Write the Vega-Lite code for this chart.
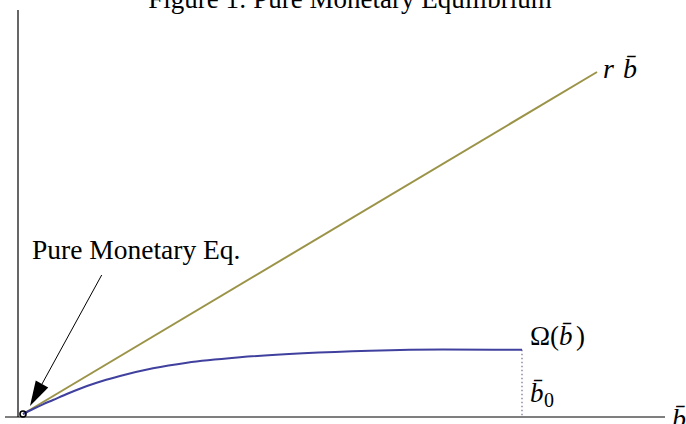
{
  "$schema": "https://vega.github.io/schema/vega-lite/v6.json",
  "width": 686,
  "height": 424,
  "padding": 0,
  "autosize": "none",
  "background": "white",
  "config": {"view": {"stroke": null}, "font": "Liberation Serif"},
  "datasets": {
    "curves": [
      {"series": "rb", "b": 0, "v": 0},
      {"series": "rb", "b": 5.74, "v": 3.42},
      {"series": "omega", "b": 0, "v": 0},
      {"series": "omega", "b": 0.1, "v": 0.05},
      {"series": "omega", "b": 0.2, "v": 0.097},
      {"series": "omega", "b": 0.3, "v": 0.14},
      {"series": "omega", "b": 0.45, "v": 0.205},
      {"series": "omega", "b": 0.64, "v": 0.28},
      {"series": "omega", "b": 0.8, "v": 0.333},
      {"series": "omega", "b": 0.97, "v": 0.38},
      {"series": "omega", "b": 1.3, "v": 0.457},
      {"series": "omega", "b": 1.64, "v": 0.513},
      {"series": "omega", "b": 2.17, "v": 0.567},
      {"series": "omega", "b": 2.8, "v": 0.607},
      {"series": "omega", "b": 3.47, "v": 0.633},
      {"series": "omega", "b": 4.2, "v": 0.645},
      {"series": "omega", "b": 4.99, "v": 0.642}
    ],
    "axes": [
      {"x": -0.05, "y": -0.03, "x2": -0.05, "y2": 4.04},
      {"x": -0.18, "y": -0.03, "x2": 6.42, "y2": -0.03}
    ],
    "b0": [{"x": 4.99, "y": 0.642, "x2": 4.99, "y2": -0.03}],
    "pointer": [{"x": 0.787, "y": 1.39, "x2": 0.19, "y2": 0.30}],
    "tip": [{"x": 0.13, "y": 0.19}],
    "eq": [{"x": 0, "y": 0}],
    "note": [{"x": 0.09, "y": 1.55, "t": "Pure Monetary Eq."}],
    "omega": [
      {"x": 5.07, "y": 0.69, "t": "Ω("},
      {"x": 5.53, "y": 0.69, "t": ")"}
    ],
    "omegaArg": [
      {"x": 5.36, "y": 0.69, "t": "b\u0304"},
      {"x": 5.07, "y": 0.12, "t": "b\u0304"}
    ],
    "lineLabel": [
      {"x": 5.80, "y": 3.36, "t": "r"},
      {"x": 6.00, "y": 3.36, "t": "b\u0304"},
      {"x": 6.49, "y": -0.14, "t": "b\u0304"}
    ],
    "sub": [{"x": 5.21, "y": 0.07, "t": "0"}],
    "heading": [{"x": 3.27, "y": 4.06, "t": "Figure 1: Pure Monetary Equilibrium"}]
  },
  "layer": [
    {
      "data": {"name": "axes"},
      "mark": {"type": "rule", "color": "black", "strokeWidth": 1.2},
      "encoding": {
        "x": {"field": "x", "type": "quantitative", "scale": {"domain": [-0.23, 6.63], "nice": false, "zero": false}, "axis": null},
        "y": {"field": "y", "type": "quantitative", "scale": {"domain": [-0.10, 4.14], "nice": false, "zero": false}, "axis": null},
        "x2": {"field": "x2"},
        "y2": {"field": "y2"}
      }
    },
    {
      "data": {"name": "b0"},
      "mark": {"type": "rule", "color": "#8a8aa8", "strokeWidth": 1.5, "strokeDash": [1.5, 2.5]},
      "encoding": {
        "x": {"field": "x", "type": "quantitative"},
        "y": {"field": "y", "type": "quantitative"},
        "x2": {"field": "x2"},
        "y2": {"field": "y2"}
      }
    },
    {
      "data": {"name": "curves"},
      "mark": {"type": "line", "strokeWidth": 2, "interpolate": "monotone"},
      "encoding": {
        "x": {"field": "b", "type": "quantitative"},
        "y": {"field": "v", "type": "quantitative"},
        "color": {"field": "series", "type": "nominal", "scale": {"domain": ["rb", "omega"], "range": ["#9b9448", "#40409e"]}, "legend": null}
      }
    },
    {
      "data": {"name": "pointer"},
      "mark": {"type": "rule", "color": "black", "strokeWidth": 1},
      "encoding": {
        "x": {"field": "x", "type": "quantitative"},
        "y": {"field": "y", "type": "quantitative"},
        "x2": {"field": "x2"},
        "y2": {"field": "y2"}
      }
    },
    {
      "data": {"name": "tip"},
      "mark": {"type": "point", "shape": "M0,-1L-0.57,1L0.57,1Z", "filled": true, "color": "black", "opacity": 1, "size": 625, "angle": 208.7},
      "encoding": {
        "x": {"field": "x", "type": "quantitative"},
        "y": {"field": "y", "type": "quantitative"}
      }
    },
    {
      "data": {"name": "eq"},
      "mark": {"type": "point", "shape": "circle", "filled": false, "stroke": "black", "strokeWidth": 1.6, "size": 36, "opacity": 1},
      "encoding": {
        "x": {"field": "x", "type": "quantitative"},
        "y": {"field": "y", "type": "quantitative"}
      }
    },
    {
      "data": {"name": "note"},
      "mark": {"type": "text", "align": "left", "baseline": "alphabetic", "font": "Liberation Serif", "fontSize": 27.5, "color": "black"},
      "encoding": {
        "x": {"field": "x", "type": "quantitative"},
        "y": {"field": "y", "type": "quantitative"},
        "text": {"field": "t"}
      }
    },
    {
      "data": {"name": "omega"},
      "mark": {"type": "text", "align": "left", "baseline": "alphabetic", "font": "Liberation Serif", "fontSize": 27, "color": "black"},
      "encoding": {
        "x": {"field": "x", "type": "quantitative"},
        "y": {"field": "y", "type": "quantitative"},
        "text": {"field": "t"}
      }
    },
    {
      "data": {"name": "omegaArg"},
      "mark": {"type": "text", "align": "left", "baseline": "alphabetic", "font": "Liberation Serif", "fontStyle": "italic", "fontSize": 27, "color": "black"},
      "encoding": {
        "x": {"field": "x", "type": "quantitative"},
        "y": {"field": "y", "type": "quantitative"},
        "text": {"field": "t"}
      }
    },
    {
      "data": {"name": "lineLabel"},
      "mark": {"type": "text", "align": "left", "baseline": "alphabetic", "font": "Liberation Serif", "fontStyle": "italic", "fontSize": 28, "color": "black"},
      "encoding": {
        "x": {"field": "x", "type": "quantitative"},
        "y": {"field": "y", "type": "quantitative"},
        "text": {"field": "t"}
      }
    },
    {
      "data": {"name": "sub"},
      "mark": {"type": "text", "align": "left", "baseline": "alphabetic", "font": "Liberation Serif", "fontSize": 20, "color": "black"},
      "encoding": {
        "x": {"field": "x", "type": "quantitative"},
        "y": {"field": "y", "type": "quantitative"},
        "text": {"field": "t"}
      }
    },
    {
      "data": {"name": "heading"},
      "mark": {"type": "text", "align": "center", "baseline": "alphabetic", "font": "Liberation Serif", "fontSize": 27, "color": "black"},
      "encoding": {
        "x": {"field": "x", "type": "quantitative"},
        "y": {"field": "y", "type": "quantitative"},
        "text": {"field": "t"}
      }
    }
  ]
}
